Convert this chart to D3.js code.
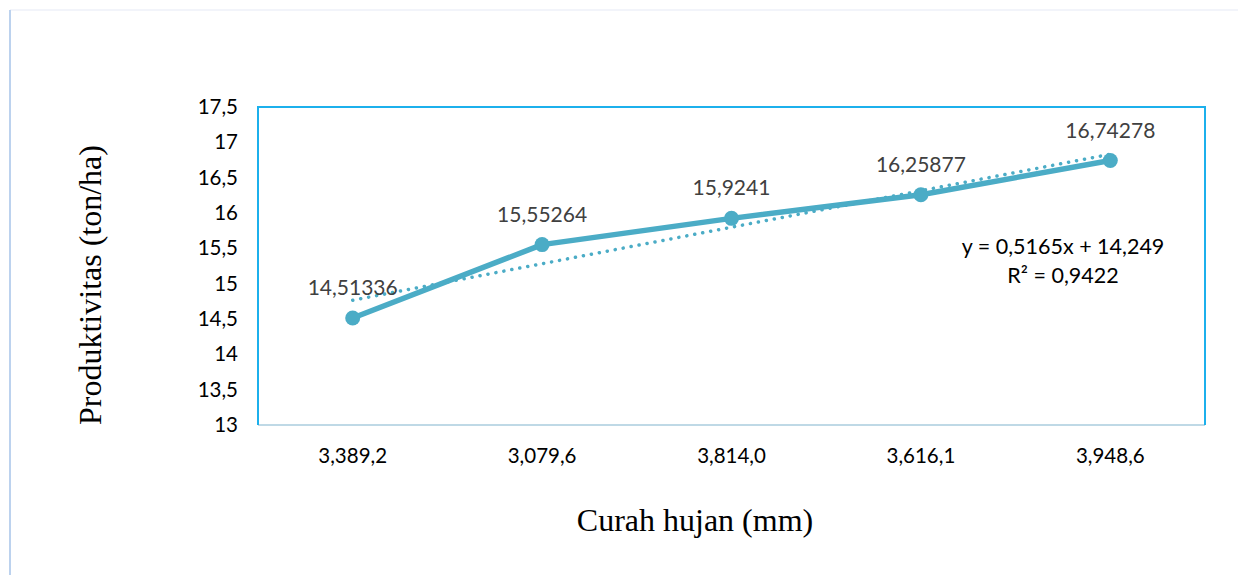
<!DOCTYPE html>
<meta charset="utf-8">
<style>
body { margin: 0; background: #fff; }
svg text { font-family: Lato, 'Liberation Sans', sans-serif; }
.serif { font-family: 'Liberation Serif', 'Times New Roman', serif; }
</style>
<body>
<svg id="chart" width="1238" height="575"></svg>

<script src="https://cdnjs.cloudflare.com/ajax/libs/d3/7.8.5/d3.min.js"></script>
<script>
// data
var categories = ["3,389,2", "3,079,6", "3,814,0", "3,616,1", "3,948,6"];
var values = [14.51336, 15.55264, 15.9241, 16.25877, 16.74278];
var labels = ["14,51336", "15,55264", "15,9241", "16,25877", "16,74278"];
var yTicks = [13, 13.5, 14, 14.5, 15, 15.5, 16, 16.5, 17, 17.5];
// linear trend y = 0.5165x + 14.249 (x = 1..5)
var trendSlope = 0.5165, trendIntercept = 14.249;

var margin = {top: 107, right: 33, bottom: 150, left: 258},
    width = 1238 - margin.left - margin.right,
    height = 575 - margin.top - margin.bottom;

var svg = d3.select("#chart");

// page frame lines
svg.append("line").attr("x1", 10).attr("x2", 1238).attr("y1", 10).attr("y2", 10)
   .attr("stroke", "#eef1f8").attr("stroke-width", 1.5);
svg.append("line").attr("x1", 10).attr("x2", 10).attr("y1", 10).attr("y2", 575)
   .attr("stroke", "#bcd2ee").attr("stroke-width", 2);

var g = svg.append("g")
    .attr("transform", "translate(" + margin.left + "," + margin.top + ")");

var x = d3.scaleBand().domain(categories).range([0, width]);
var y = d3.scaleLinear().domain([13, 17.5]).range([height, 0]);

// plot border
g.append("line").attr("x1", 0).attr("x2", width).attr("y1", height).attr("y2", height)
  .attr("stroke", "#bfd9e6").attr("stroke-width", 2);
g.append("path")
  .attr("d", "M0," + height + "V0H" + width + "V" + height)
  .attr("fill", "none").attr("stroke", "#1cb0ec").attr("stroke-width", 2);

// y axis
var yAxis = d3.axisLeft(y).tickValues(yTicks).tickSize(0).tickPadding(20)
  .tickFormat(function(d) { return String(d).replace(".", ","); });
g.append("g").call(yAxis)
  .call(function(s) { s.select(".domain").remove(); })
  .selectAll("text").attr("font-size", "20.5px").attr("fill", "#000")
  .style("font-family", "Lato, 'Liberation Sans', sans-serif");

// x axis
var xAxis = d3.axisBottom(x).tickSize(0).tickPadding(23);
g.append("g").attr("transform", "translate(0," + height + ")").call(xAxis)
  .call(function(s) { s.select(".domain").remove(); })
  .selectAll("text").attr("font-size", "20.5px").attr("fill", "#000")
  .style("font-family", "Lato, 'Liberation Sans', sans-serif");

var cx = function(d, i) { return x(categories[i]) + x.bandwidth() / 2; };

// trendline
var trend = values.map(function(v, i) { return trendSlope * (i + 1) + trendIntercept; });
g.append("path").datum(trend)
  .attr("d", d3.line().x(cx).y(function(d) { return y(d); }))
  .attr("fill", "none").attr("stroke", "#4bacc6").attr("stroke-width", 3.5)
  .attr("stroke-linecap", "round").attr("stroke-dasharray", "0.1 8");

// series line
g.append("path").datum(values)
  .attr("d", d3.line().x(cx).y(function(d) { return y(d); }))
  .attr("fill", "none").attr("stroke", "#4bacc6").attr("stroke-width", 5.5)
  .attr("stroke-linejoin", "round");

g.selectAll(".dot").data(values).enter().append("circle")
  .attr("class", "dot")
  .attr("cx", cx).attr("cy", function(d) { return y(d); })
  .attr("r", 7.5).attr("fill", "#4bacc6");

// data labels
g.selectAll(".label").data(values).enter().append("text")
  .attr("class", "label")
  .attr("x", cx).attr("y", function(d) { return y(d) - 23; })
  .attr("text-anchor", "middle").attr("font-size", "21px").attr("fill", "#404040")
  .text(function(d, i) { return labels[i]; });

// trend equation
var eq = g.append("text").attr("text-anchor", "middle").attr("font-size", "21.5px").attr("fill", "#000");
eq.append("tspan").attr("x", 805).attr("y", 147).text("y = 0,5165x + 14,249");
eq.append("tspan").attr("x", 805).attr("y", 176).text("R² = 0,9422");

// axis titles
svg.append("text").attr("class", "serif")
  .attr("transform", "translate(101,285) rotate(-90)")
  .attr("text-anchor", "middle").attr("font-size", "32px").attr("fill", "#000")
  .text("Produktivitas (ton/ha)");
svg.append("text").attr("class", "serif")
  .attr("x", 695).attr("y", 531)
  .attr("text-anchor", "middle").attr("font-size", "32px").attr("fill", "#000")
  .text("Curah hujan (mm)");
</script>
</body>
